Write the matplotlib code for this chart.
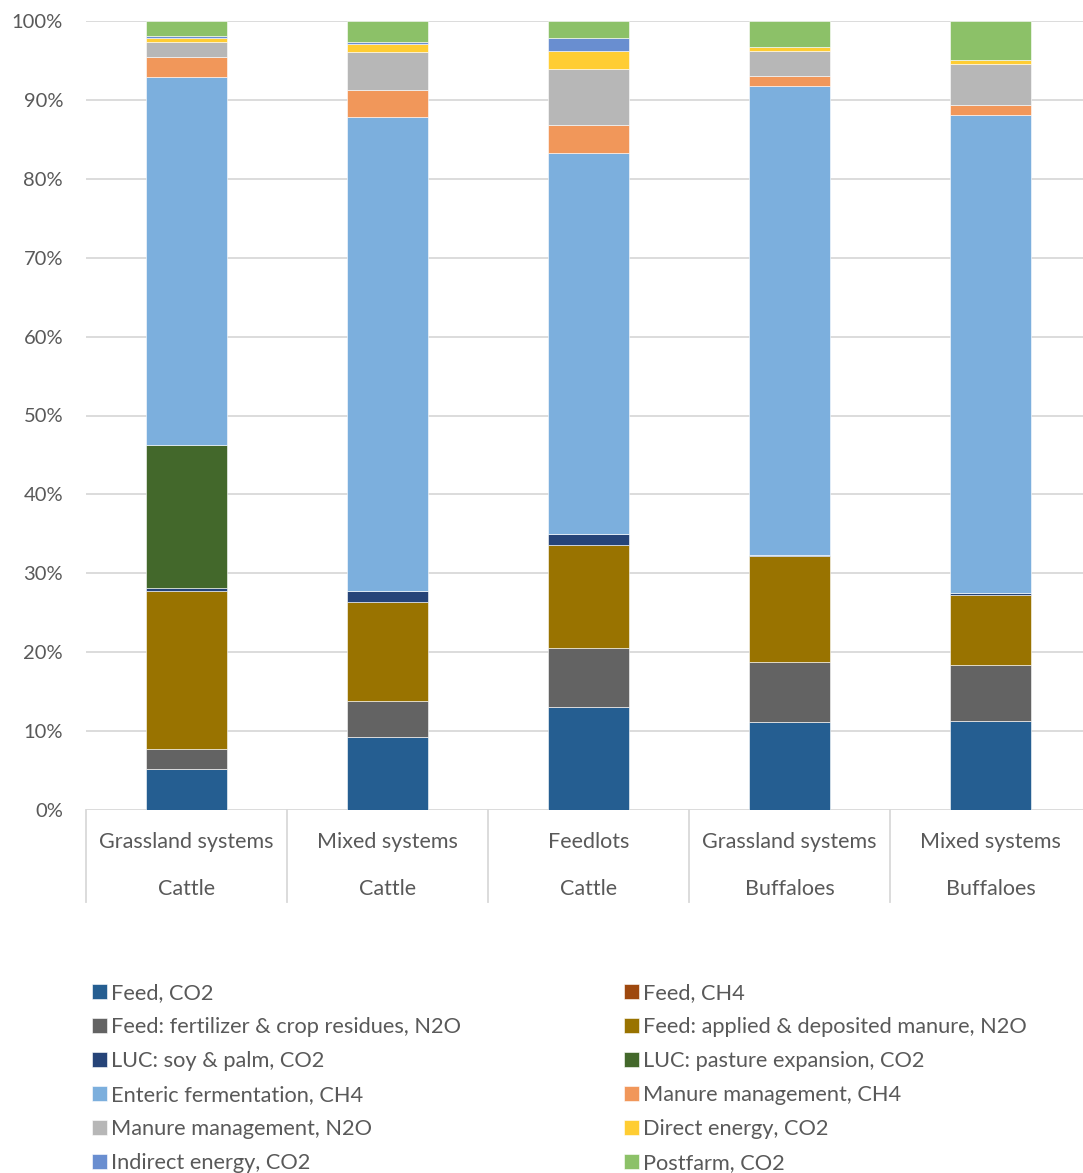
import matplotlib.pyplot as plt
import matplotlib.transforms as mtransforms
import numpy as np

plt.rcParams['font.family'] = ['Lato', 'DejaVu Sans']

systems = ["Grassland systems", "Mixed systems", "Feedlots", "Grassland systems", "Mixed systems"]
species = ["Cattle", "Cattle", "Cattle", "Buffaloes", "Buffaloes"]

series = [
    "Feed, CO2",
    "Feed, CH4",
    "Feed: fertilizer & crop residues, N2O",
    "Feed: applied & deposited manure, N2O",
    "LUC: soy & palm, CO2",
    "LUC: pasture expansion, CO2",
    "Enteric fermentation, CH4",
    "Manure management, CH4",
    "Manure management, N2O",
    "Direct energy, CO2",
    "Indirect energy, CO2",
    "Postfarm, CO2",
]

colors = ["#255E91", "#9E480E", "#636363", "#997300", "#264478", "#43682B",
          "#7CAFDD", "#F1975A", "#B7B7B7", "#FFCD33", "#698ED0", "#8CC168"]

# share of total emissions (%) per system, one list per source
feed_co2 = [5.2, 9.25, 13.05, 11.15, 11.3]
feed_ch4 = [0.0, 0.0, 0.0, 0.0, 0.0]
feed_fert_n2o = [2.5, 4.55, 7.45, 7.6, 7.1]
feed_manure_n2o = [20.1, 12.5, 13.05, 13.45, 8.85]
luc_soy = [0.3, 1.5, 1.45, 0.1, 0.3]
luc_pasture = [18.2, 0.0, 0.0, 0.0, 0.0]
enteric = [46.6, 60.0, 48.3, 59.5, 60.55]
manure_ch4 = [2.6, 3.4, 3.5, 1.25, 1.3]
manure_n2o = [1.8, 4.9, 7.1, 3.2, 5.1]
direct_energy = [0.6, 1.0, 2.3, 0.45, 0.6]
indirect_energy = [0.25, 0.3, 1.7, 0.0, 0.0]
postfarm = [1.8, 2.6, 2.1, 3.3, 4.85]

values = [feed_co2, feed_ch4, feed_fert_n2o, feed_manure_n2o, luc_soy, luc_pasture,
          enteric, manure_ch4, manure_n2o, direct_energy, indirect_energy, postfarm]

text_color = "#595959"
grid_color = "#D9D9D9"

W, H = 1083, 1173
fig = plt.figure(figsize=(W / 100, H / 100), dpi=100)
# plot area runs a little past the right edge of the canvas
ax = fig.add_axes([86 / W, 1 - 810 / H, 1005 / W, 789 / H])

x = np.arange(len(systems))
bottom = np.zeros(len(systems))
handles = []
for name, vals, col in zip(series, values, colors):
    vals = np.array(vals)
    b = ax.bar(x, vals, 0.4, bottom=bottom, color=col, edgecolor="white",
               linewidth=0.4, label=name, zorder=3)
    handles.append(b)
    bottom += vals

ax.set_xlim(-0.5, len(systems) - 0.5)
ax.set_ylim(0, 100)
ax.set_yticks(np.arange(0, 101, 10))
ax.set_yticklabels([f"{v}%" for v in range(0, 101, 10)], fontsize=14.5, color=text_color)
ax.tick_params(axis="y", length=0, pad=16.5)
ax.set_xticks([])
ax.grid(axis="y", color=grid_color, linewidth=1.3, zorder=0)
for s in ax.spines.values():
    s.set_visible(False)

# two-level category axis below the bars
trans = mtransforms.blended_transform_factory(ax.transData, ax.transAxes)
depth = 92 / 789
for i in range(len(systems) + 1):
    ax.plot([i - 0.5, i - 0.5], [0, -depth], transform=trans, color=grid_color,
            linewidth=1.3, clip_on=False)
for i, (s, sp) in enumerate(zip(systems, species)):
    ax.text(i, -32 / 789, s, transform=trans, ha="center", va="center",
            fontsize=15.5, color=text_color)
    ax.text(i, -79 / 789, sp, transform=trans, ha="center", va="center",
            fontsize=15.5, color=text_color)

# legend laid out in rows: left column takes even entries, right column odd ones
order = list(range(0, len(series), 2)) + list(range(1, len(series), 2))
fig.legend([handles[i] for i in order], [series[i] for i in order], ncol=2,
           loc="upper left", bbox_to_anchor=(77 / W, 1 - 968 / H),
           frameon=False, fontsize=15.7, labelcolor=text_color,
           handlelength=0.68, handleheight=0.68, handletextpad=0.2,
           borderpad=0.2, columnspacing=7.45, labelspacing=0.64)

fig.savefig("out.png", dpi=100)
